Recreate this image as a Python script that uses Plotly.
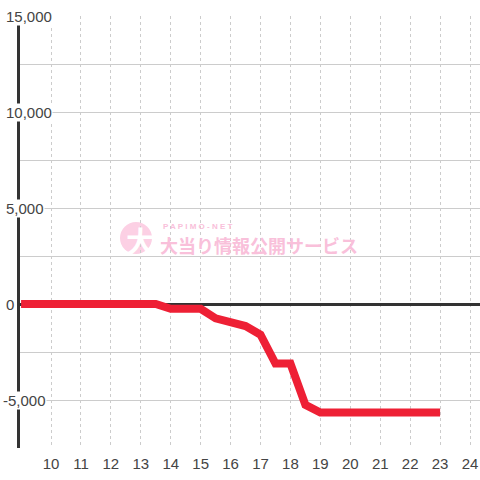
import plotly.graph_objects as go

# ---- data ----
hours = [9, 9.5, 10, 10.5, 11, 11.5, 12, 12.5, 13, 13.5,
         14, 14.5, 15, 15.5, 16, 16.5, 17, 17.5, 18, 18.5,
         19, 19.5, 20, 20.5, 21, 21.5, 22, 22.5, 23]
balance = [0, 0, 0, 0, 0, 0, 0, 0, 0, 0,
           -250, -250, -250, -750, -950, -1150, -1600, -3100, -3100, -5250,
           -5650, -5650, -5650, -5650, -5650, -5650, -5650, -5650, -5650]
x_ticks = list(range(10, 25))
y_label_values = [15000, 10000, 5000, 0, -5000]
y_label_texts = ["15,000", "10,000", "5,000", "0", "-5,000"]

W, H = 480, 480
ML, MR, MT, MB = 20, 0, 16, 32
PW, PH = W - ML - MR, H - MT - MB


def px(xp):
    return (xp - ML) / PW


def py(yp):
    return (H - MB - yp) / PH


FONT = "Liberation Sans, Arial, sans-serif"
TXT = "#444444"
PINK = "#f9c0da"

fig = go.Figure()
fig.add_trace(go.Scatter(
    x=hours, y=balance, mode="lines",
    line=dict(color="#ee2035", width=8, shape="linear"),
    hoverinfo="skip", showlegend=False,
))

# tick-label annotations for y axis
annotations = []
for v, t in zip(y_label_values, y_label_texts):
    left = 5 - (3 if t.startswith("-") else 0)
    annotations.append(dict(
        x=px(left), xref="paper", y=v, yref="y",
        text=t, showarrow=False, xanchor="left", yanchor="middle",
        font=dict(family=FONT, size=15, color=TXT),
        bgcolor="white", borderpad=0,
    ))

# watermark
annotations.append(dict(
    x=px(140), xref="paper", y=py(240), yref="paper",
    text="<b>大</b>", showarrow=False, xanchor="center", yanchor="middle",
    font=dict(family="Noto Sans CJK JP", size=29, color="white"),
))
annotations.append(dict(
    x=px(161), xref="paper", y=py(226.5), yref="paper",
    text="<b>P A P I M O - N E T</b>", showarrow=False, xanchor="left", yanchor="middle",
    font=dict(family=FONT, size=8, color=PINK),
))
annotations.append(dict(
    x=px(158), xref="paper", y=py(245), yref="paper",
    text="<b>大当り情報公開サービス</b>", showarrow=False, xanchor="left", yanchor="middle",
    font=dict(family="Noto Sans CJK JP", size=18, color=PINK),
))

shapes = [dict(
    type="circle", xref="paper", yref="paper",
    x0=px(120), x1=px(152), y0=py(254), y1=py(222),
    fillcolor="#fcd0e4", line=dict(width=0), layer="below",
)]

fig.update_layout(
    width=W, height=H,
    margin=dict(l=ML, r=MR, t=MT, b=MB),
    paper_bgcolor="white", plot_bgcolor="white",
    showlegend=False,
    annotations=annotations,
    shapes=shapes,
    font=dict(family=FONT, size=15, color=TXT),
)
fig.update_xaxes(
    range=[8.964, 24.334],
    tickmode="array", tickvals=x_ticks, ticktext=[str(t) for t in x_ticks],
    showgrid=True, gridcolor="#cccccc", gridwidth=1, griddash="3px,3px",
    zeroline=False, showline=False,
    ticks="outside", ticklen=2, tickcolor="rgba(0,0,0,0)",
    tickfont=dict(family=FONT, size=15, color=TXT),
)
fig.update_yaxes(
    range=[-7500, 15000],
    tick0=0, dtick=2500,
    showgrid=True, gridcolor="#cccccc", gridwidth=1,
    zeroline=True, zerolinecolor="#333333", zerolinewidth=3,
    showline=True, linecolor="#333333", linewidth=3,
    showticklabels=False,
)

fig.write_html("out.html", config={"displayModeBar": False},
               post_script="document.body.style.margin='0';")
